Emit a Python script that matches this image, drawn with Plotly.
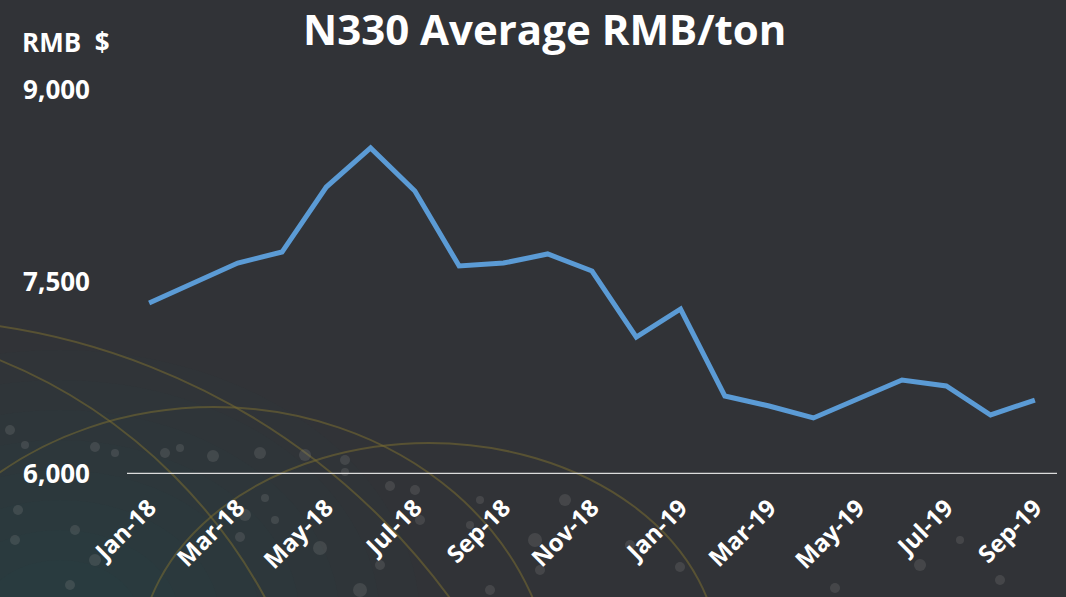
import plotly.graph_objects as go

months = ["Jan-18", "Feb-18", "Mar-18", "Apr-18", "May-18", "Jun-18", "Jul-18",
          "Aug-18", "Sep-18", "Oct-18", "Nov-18", "Dec-18", "Jan-19", "Feb-19",
          "Mar-19", "Apr-19", "May-19", "Jun-19", "Jul-19", "Aug-19", "Sep-19"]
prices = [7336, 7492, 7648, 7734, 8242, 8547, 8211, 7625, 7648, 7719, 7586,
          7070, 7289, 6609, 6531, 6438, 6586, 6734, 6688, 6461, 6578]
x_ticks = months[::2]
y_ticks = [6000, 7500, 9000]
y_tick_text = ["6,000", "7,500", "9,000"]

FONT = "Open Sans"

# plot area in pixels (for decorative background shapes only)
L, R, T, B = 127, 1057, 90, 474


def px(x):
    return (x - L) / (R - L)


def py(y):
    return (B - y) / (B - T)


def ellipse(cx, cy, rx, ry, color, width=2, fill=None):
    return dict(type="circle", xref="paper", yref="paper", layer="below",
                x0=px(cx - rx), x1=px(cx + rx), y0=py(cy + ry), y1=py(cy - ry),
                line=dict(color=color, width=width),
                fillcolor=fill if fill else "rgba(0,0,0,0)")


arc_col = "rgba(120,108,50,0.55)"
deco = []
# soft teal glow bottom-left (many faint layers to avoid hard edges)
for i in range(8):
    r = 360 - i * 40
    deco.append(ellipse(60, 620, r, r * 0.75, "rgba(0,0,0,0)", 0,
                        "rgba(40,100,110,0.03)"))
deco += [
    ellipse(214, 700, 340, 293, arc_col),
    ellipse(429, 660, 290, 217, arc_col),
    ellipse(-100, 1000, 681, 681, arc_col),
    ellipse(-200, 850, 529, 529, arc_col),
]
# decorative network dots
dots = [(10, 430, 5), (25, 445, 4), (95, 447, 5), (115, 453, 4), (165, 453, 5),
        (180, 448, 4), (213, 456, 6), (260, 453, 6), (305, 455, 6), (345, 460, 5),
        (345, 472, 4), (390, 486, 5), (415, 490, 5), (265, 498, 4), (245, 515, 6),
        (275, 520, 4), (240, 537, 5), (320, 548, 7), (380, 565, 5), (420, 520, 5),
        (480, 500, 4), (470, 525, 4), (535, 540, 7), (18, 510, 5), (15, 540, 5),
        (75, 530, 5), (95, 560, 6), (70, 585, 5), (360, 590, 7), (490, 590, 5),
        (540, 570, 5), (565, 500, 6), (630, 545, 5), (680, 567, 5), (835, 588, 5),
        (920, 565, 6), (1000, 580, 5), (960, 540, 4)]
for (dx, dy, r) in dots:
    deco.append(ellipse(dx, dy, r, r, "rgba(0,0,0,0)", 0, "rgba(140,140,140,0.22)"))

fig = go.Figure()
fig.add_trace(go.Scatter(
    x=months, y=prices, mode="lines",
    line=dict(color="#5b9bd5", width=5),
    hoverinfo="x+y", showlegend=False,
))

fig.update_layout(
    width=1066, height=597,
    paper_bgcolor="#313337", plot_bgcolor="rgba(0,0,0,0)",
    margin=dict(l=L, r=1066 - R, t=T, b=597 - B),
    title=dict(text="<b>N330 Average RMB/ton</b>", x=0.511, xanchor="center",
               y=1 - 30 / 597, yanchor="middle",
               font=dict(family=FONT, size=42, color="white")),
    xaxis=dict(type="category", range=[-0.5, 20.5], tickmode="array",
               tickvals=x_ticks, ticktext=[f"<b>{t}</b>" for t in x_ticks],
               tickangle=-45, showgrid=False, zeroline=False,
               showline=False, ticks="", ticklabelstandoff=14,
               tickfont=dict(family=FONT, size=24, color="white")),
    yaxis=dict(range=[6000, 9000], tickmode="array", tickvals=y_ticks,
               ticktext=[f"<b>{t}</b>" for t in y_tick_text],
               showgrid=False, zeroline=False, showline=False, ticks="",
               ticklabelstandoff=36,
               tickfont=dict(family=FONT, size=26, color="white")),
    shapes=deco + [dict(type="line", xref="paper", yref="y", x0=0, x1=1,
                        y0=6000, y1=6000, line=dict(color="#dcdcdc", width=2.5))],
    annotations=[dict(text="<b>RMB  $</b>", xref="paper", yref="paper",
                      x=px(20), y=py(42), xanchor="left", yanchor="middle",
                      showarrow=False,
                      font=dict(family=FONT, size=26, color="white"))],
)

fig.write_html("out.html", config={"displayModeBar": False},
               post_script="document.body.style.margin='0';")
